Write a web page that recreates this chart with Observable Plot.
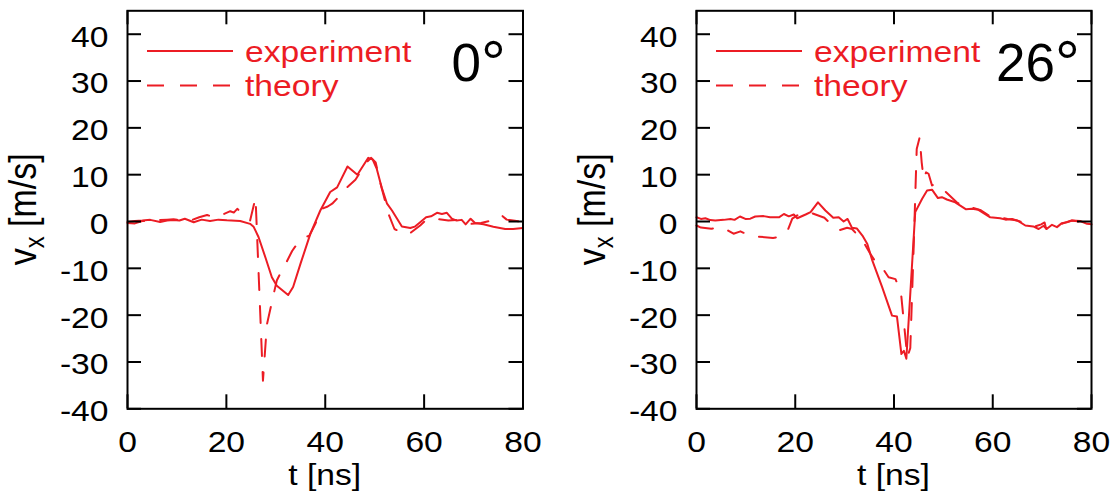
<!DOCTYPE html>
<html>
<head>
<meta charset="utf-8">
<script src="https://cdn.jsdelivr.net/npm/d3@7"></script>
<script src="https://cdn.jsdelivr.net/npm/@observablehq/plot@0.6"></script>
<style>
  html, body { margin: 0; padding: 0; background: #fff; }
  #fig { display: flex; width: 1112px; height: 492px; overflow: hidden; }
  #fig svg { display: block; flex: none; }
</style>
</head>
<body>
<div id="fig"></div>
<script>
// ---- axis ticks and labels ----
const xTicks = [0, 20, 40, 60, 80];
const yTicks = [-40, -30, -20, -10, 0, 10, 20, 30, 40];
const seriesNames = ["experiment", "theory"];
const angleValues = ["0", "26"];
const xLabel = "t [ns]";

// ---- 0° panel: measured and computed velocity (t in ns, v in m/s) ----
const expT0 = [0, 1.5, 3, 4.6, 6.6, 8, 9.3, 10.5, 11.6, 13.4, 15, 16.7, 18.4, 20.1, 22.8, 24.8, 25.5, 26.5, 28, 29.2,
  30.2, 32.5, 33.5, 35, 37, 39, 41, 42.4, 44.5, 46.5, 48.7, 49.6, 50.4, 51.4, 52.5, 53.5, 55.5, 57.2, 58.1, 59.2,
  60.4, 61.4, 62.6, 63.6, 64.6, 65.6, 66.6, 67.6, 68.4, 69.4, 70.3, 72, 74, 76.4, 78, 80];
const expV0 = [-0.1, 0.1, 0.2, 0.35, -0.1, 0.2, 0.3, 0.2, 0.6, -0.15, 0.4, 0.1, 0.4, 0.25, 0.1, -0.5, -1.1, -3.3, -8, -11.9,
  -13.7, -15.7, -14, -9, -2.6, 2.35, 6.3, 7.3, 11.75, 10, 13.6, 13.2, 11.3, 7.3, 3.8, 2.35, -1.07, -1.4, -1.1, -0.15,
  0.9, 1.1, 1.85, 1.6, 1.85, 0.6, 0.2, 0.35, -0.6, 0.6, -0.3, -0.6, -1.1, -1.6, -1.6, -1.4];
const theoT0 = [0, 1.5, 3, 5, 6.3, 8, 9.3, 11, 13.1, 14.5, 16.1, 17.5, 19.5, 20.8, 21.5, 22.2, 23.5, 24.8, 25.9, 27.4,
  28.2, 29.5, 30.2, 31.2, 32, 33.3, 34.5, 35.5, 36.8, 38, 39.3, 40.5, 41.4, 42.5, 43.7, 46.1, 48.4, 49.3, 50.2, 51.2,
  52.8, 54, 55.5, 56.8, 58, 59.2, 60.5, 62.2, 64.9, 66.5, 68, 69.6, 71.5, 74.3, 75.7, 76.7, 78, 80];
const theoV0 = [-0.3, -0.4, 0.1, 0.2, 0.3, 0.4, 0.5, 0.2, 0.35, 0.9, 1.4, 0.9, 1.6, 2.2, 1.9, 2.7, 1.5, 0.2, 5.1, -34,
  -22, -15.8, -12.6, -10.5, -9, -6.3, -4.5, -3.6, -3, -0.5, 2.7, 3.2, 3.8, 5, 6.6, 8.9, 12.7, 13.6, 12.6, 8,
  1.6, -1.6, -2.4, -2.8, -1.8, -0.85, 0.4, 0.6, 0.2, 0.3, -0.3, -0.5, -0.3, 0.35, 1.3, 0.4, 0.2, -0.1];

// ---- 26° panel ----
const expT26 = [0, 0.9, 1.8, 2.8, 3.8, 5.5, 6.9, 7.7, 8.8, 9.9, 10.9, 11.9, 13.6, 14.9, 16.7, 17.7, 18.7, 19.7, 20.4, 22.1,
  23.1, 24.6, 26.1, 27.7, 28.8, 29.8, 30.6, 31.5, 32.5, 33.6, 34.6, 35.6, 37.6, 39.6, 40.6, 41.5, 42, 42.5, 44.3, 45.7,
  46.7, 47.7, 48.9, 49.7, 50.7, 52.4, 54.6, 55.8, 57.1, 59.5, 61.5, 62.6, 63.9, 65.2, 66.6, 68.2, 69.3, 70.3, 70.9, 72,
  73, 74, 75, 76.1, 77.7, 79.1, 80];
const expV26 = [0.9, 0.55, 0.7, 0.3, 0.2, 0.35, 0.55, 0.35, 1.07, 0.55, 0.6, 1.07, 1.15, 0.9, 0.9, 1.6, 1.1, 1.5, 0.7, 1.5,
  2, 4.1, 2.35, 0.8, 0.9, 0, 0.55, -1.35, -1.5, -3, -4.8, -8.3, -14, -20.1, -20.3, -28.3, -27.6, -29.3, 2, 4.85,
  6.6, 6.8, 5, 5.2, 4.7, 4.1, 2.6, 2.7, 2.5, 0.9, 0.7, 0.4, 0.55, 0.1, -0.85, -1.05, -1.6, -0.9, -1.6, -0.7,
  -1.2, -0.35, -0.15, 0.2, 0.1, -0.5, -0.6];
const theoT26 = [0, 0.9, 3, 4.5, 6.2, 7.5, 8.9, 10.5, 12.3, 15.5, 17, 18.5, 19.4, 20.4, 22.8, 25.9, 27.2, 28.8, 30.5, 31.5,
  33.6, 35.2, 36.2, 37.2, 38.9, 40.3, 41.4, 42.7, 43.3, 44, 44.6, 45.2, 45.6, 46, 46.5, 47, 47.7, 48.2, 49.2, 50.4,
  52.7, 54.5, 56, 57.6, 59.5, 61.5, 63, 65, 67, 68.5, 69.8, 70.5, 70.8, 73, 74.5, 76, 77.5, 79, 80];
const theoV26 = [-0.85, -1.3, -1.55, -1.2, -1.8, -2.6, -2.1, -2.9, -3.2, -3.5, -3.3, -1.8, 0.6, 1.3, 2, 0.8, -0.5, -1.9, -1.35, -1.6,
  -4, -6.9, -8.5, -9.2, -11.9, -12.3, -15.1, -29, -27, -5, 15.5, 18, 12.7, 9.1, 10.5, 10.2, 7.7, 8, 7, 6.4,
  4.1, 3, 2.9, 2.4, 1.1, 0.9, 0.55, 0.2, -0.6, -1.1, -0.6, -0.2, -1.5, -0.9, -0.3, 0.2, 0, -0.4, -0.9];

// ---- styling ----
const RED = "#ec1c24";
const FONT = "'Liberation Sans', Arial, Helvetica, sans-serif";
const FS = 29.5;      // tick, x-title and legend text size
const FSY = 34;       // y-title text size
const SX = 1.14;      // horizontal widening of the regular text
const W = 556, H = 492, MT = 10.3, MB = 83.7;
const DASH = "17,16";

// widen a text element horizontally about its anchor point
function widen(t) {
  const x = +t.getAttribute("x") || 0, y = +t.getAttribute("y") || 0;
  t.removeAttribute("x"); t.removeAttribute("y");
  const tr = t.getAttribute("transform") || "";
  t.setAttribute("transform", `${tr} translate(${x},${y}) scale(${SX},1)`);
}

function panel({expT, expV, thT, thV, angle, ml, mr, angleDx}) {
  const exp = expT.map((t, i) => ({t, v: expV[i]}));
  const th = thT.map((t, i) => ({t, v: thV[i]}));
  const iw = W - ml - mr, ih = H - MT - MB;
  const tickStyle = {stroke: "#000", strokeWidth: 2};

  const svg = Plot.plot({
    width: W, height: H,
    marginLeft: ml, marginRight: mr, marginTop: MT, marginBottom: MB,
    style: {fontFamily: FONT, fontSize: FS + "px", color: "#000", background: "#fff", overflow: "visible"},
    x: {domain: [0, 80], axis: null},
    y: {domain: [-40, 45], axis: null},
    marks: [
      Plot.line(th, {x: "t", y: "v", stroke: RED, strokeWidth: 2, strokeDasharray: DASH}),
      Plot.line(exp, {x: "t", y: "v", stroke: RED, strokeWidth: 2}),
      // inward ticks on all four sides of the box
      Plot.tickX(xTicks, {x: d => d, insetTop: ih - 14, ...tickStyle}),
      Plot.tickX(xTicks, {x: d => d, insetBottom: ih - 14, ...tickStyle}),
      Plot.tickY(yTicks, {y: d => d, insetRight: iw - 14, ...tickStyle}),
      Plot.tickY(yTicks, {y: d => d, insetLeft: iw - 14, ...tickStyle}),
      Plot.frame({stroke: "#000", strokeWidth: 2}),
      // tick labels
      Plot.text(xTicks, {x: d => d, text: d => String(d), frameAnchor: "bottom",
        lineAnchor: "bottom", dy: 43, textAnchor: "middle", fill: "#000"}),
      Plot.text(yTicks, {y: d => d, text: d => String(d), frameAnchor: "left",
        lineAnchor: "bottom", dx: -19, dy: 12.4, textAnchor: "end", fill: "#000"})
    ]
  });

  const s = d3.select(svg);
  s.selectAll("text").each(function () { widen(this); });

  // axis titles
  s.append("text")
    .attr("transform", `translate(${ml + iw / 2},485) scale(${SX},1)`)
    .attr("text-anchor", "middle").attr("fill", "#000")
    .attr("font-family", FONT).attr("font-size", FS)
    .text(xLabel);
  const yl = s.append("text")
    .attr("transform", `translate(${ml - 91},${MT + ih / 2}) scale(${SX},1) rotate(-90)`)
    .attr("text-anchor", "middle").attr("fill", "#000")
    .attr("font-family", FONT).attr("font-size", FSY);
  yl.append("tspan").text("v");
  yl.append("tspan").attr("font-size", FSY * 0.7).attr("dy", 7).text("x");
  yl.append("tspan").attr("dy", -7).text(" [m/s]");

  // legend
  const lx0 = ml + 20, lx1 = ml + 106, ltx = ml + 118;
  const rows = [{y: 51, base: 61.5, dash: null}, {y: 85.5, base: 95.5, dash: DASH}];
  rows.forEach((r, i) => {
    s.append("line")
      .attr("x1", lx0).attr("x2", lx1).attr("y1", r.y).attr("y2", r.y)
      .attr("stroke", RED).attr("stroke-width", 2)
      .attr("stroke-dasharray", r.dash);
    s.append("text")
      .attr("transform", `translate(${ltx},${r.base}) scale(${SX},1)`)
      .attr("text-anchor", "start")
      .attr("fill", RED).attr("font-family", FONT).attr("font-size", FS)
      .text(seriesNames[i]);
  });

  // incidence angle, with an enlarged degree ring
  const ang = s.append("text")
    .attr("x", W - mr + angleDx).attr("y", 81)
    .attr("text-anchor", "end").attr("fill", "#000")
    .attr("font-family", FONT).attr("font-size", 53);
  ang.append("tspan").text(angle);
  ang.append("tspan").attr("font-size", 62).attr("dy", 3).text("°");

  return svg;
}

const fig = document.getElementById("fig");
fig.appendChild(panel({expT: expT0, expV: expV0, thT: theoT0, thV: theoV0,
  angle: angleValues[0], ml: 127, mr: 33.5, angleDx: -16.8}));
fig.appendChild(panel({expT: expT26, expV: expV26, thT: theoT26, thV: theoV26,
  angle: angleValues[1], ml: 140, mr: 21, angleDx: -11.3}));
</script>
</body>
</html>
